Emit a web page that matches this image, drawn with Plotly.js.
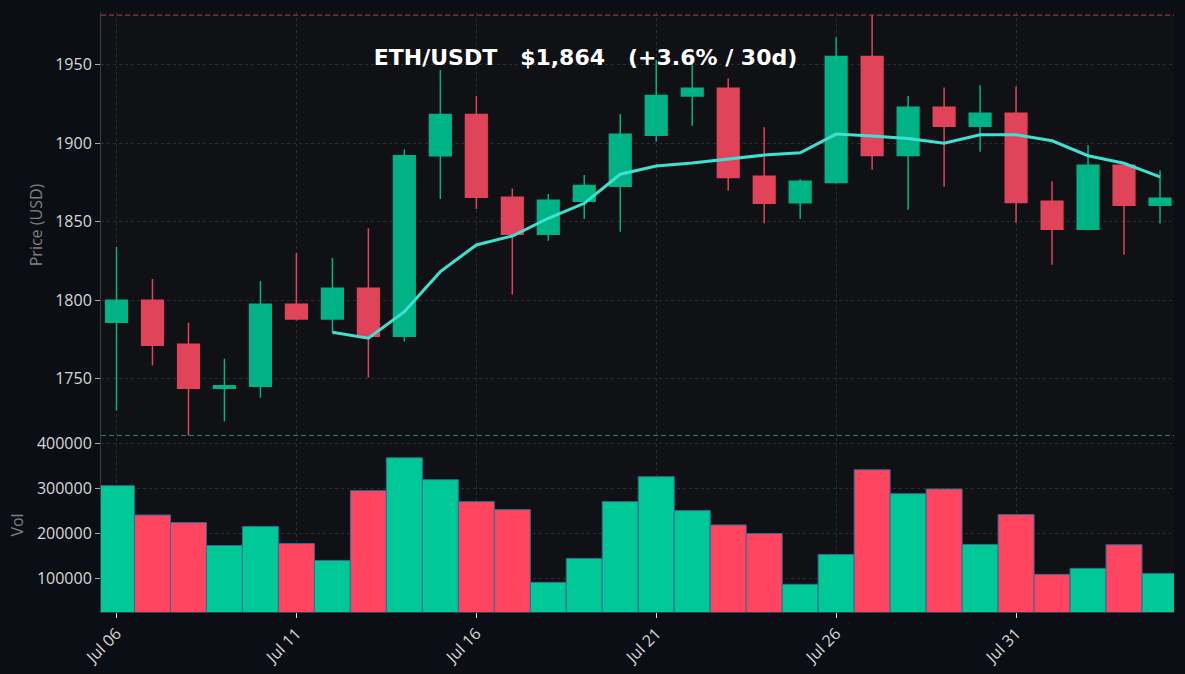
<!DOCTYPE html>
<html>
<head>
<meta charset="utf-8">
<script src="https://cdn.plot.ly/plotly-3.0.1.min.js"></script>
<style>
  html, body { margin: 0; padding: 0; background: #0b0e14; }
  #chart { width: 1185px; height: 674px; }
</style>
</head>
<body>
<div id="chart"></div>
<script>
const dates = ['2023-07-06','2023-07-07','2023-07-08','2023-07-09','2023-07-10','2023-07-11','2023-07-12','2023-07-13','2023-07-14','2023-07-15',
               '2023-07-16','2023-07-17','2023-07-18','2023-07-19','2023-07-20','2023-07-21','2023-07-22','2023-07-23','2023-07-24','2023-07-25',
               '2023-07-26','2023-07-27','2023-07-28','2023-07-29','2023-07-30','2023-07-31','2023-08-01','2023-08-02','2023-08-03','2023-08-04'];
const openP  = [1786, 1800, 1772, 1744, 1745.3, 1797.5, 1788, 1807.6, 1777, 1892, 1918.3, 1865.5, 1842, 1863, 1872.5, 1905, 1930, 1935, 1879, 1862,
                1875, 1955.2, 1892.2, 1922.8, 1910.7, 1919, 1863, 1845.2, 1885.9, 1860.4];
const highP  = [1833.9, 1813.5, 1785.6, 1762.7, 1812.3, 1830.1, 1826.9, 1845.8, 1896, 1946.5, 1930, 1871.2, 1867.6, 1879.7, 1918.5, 1953, 1952, 1941.2, 1910.2, 1877,
                1967.5, 1981.5, 1930, 1935.5, 1936.8, 1936.1, 1875.7, 1898.6, 1886, 1882.7];
const lowP   = [1729.8, 1758.4, 1713.9, 1722.8, 1738, 1787, 1779.6, 1750.8, 1773.7, 1864.4, 1858.1, 1803.6, 1837.9, 1851.7, 1843.6, 1900.9, 1911.1, 1869.7, 1849, 1851.7,
                1874.2, 1883.1, 1857.6, 1872.3, 1894.5, 1849.4, 1822.6, 1844.5, 1829, 1848.8];
const closeP = [1800, 1771.4, 1744, 1745.5, 1797.5, 1788, 1807.6, 1777, 1892, 1918.3, 1865.5, 1842, 1863.6, 1873, 1905.6, 1930.4, 1935, 1878.2, 1861.7, 1875.7,
                1955.2, 1892.2, 1922.8, 1910.7, 1919, 1862.3, 1845.2, 1885.9, 1860.4, 1864.9];
const volume = [306700, 241300, 224400, 173300, 215600, 177800, 140000, 295600, 368900, 320000, 271100, 253300, 91100, 144400, 271100, 326700, 251100, 219100, 200000, 86700,
                153300, 342200, 288900, 299300, 175600, 242200, 108900, 122200, 174900, 111100];
const maDates = dates.slice(6);
const ma7 = [1779.6, 1775.8, 1792.7, 1818.2, 1835.2, 1840.9, 1852.2, 1861.7, 1880.2, 1885.4, 1887.3, 1889.7, 1892.4, 1893.9,
             1905.8, 1904.5, 1903, 1899.9, 1905.3, 1905.3, 1901.5, 1892, 1887.2, 1878.6];
const titleText = 'ETH/USDT   $1,864   (+3.6% / 30d)';

const GREEN = '#00b386', RED = '#e0435a';
const VGREEN = '#00c896', VRED = '#ff4560';
const volColors = closeP.map((c, i) => c >= openP[i] ? VGREEN : VRED);
const maxHigh = Math.max(...highP);
const minLow = Math.min(...lowP);

const traces = [
  {
    type: 'candlestick', x: dates, open: openP, high: highP, low: lowP, close: closeP,
    xaxis: 'x', yaxis: 'y',
    increasing: { line: { color: GREEN, width: 1.5 }, fillcolor: GREEN },
    decreasing: { line: { color: RED, width: 1.5 }, fillcolor: RED },
    showlegend: false, hoverinfo: 'skip'
  },
  {
    type: 'scatter', mode: 'lines', x: maDates, y: ma7, xaxis: 'x', yaxis: 'y',
    line: { color: '#40e0d0', width: 3 }, showlegend: false, hoverinfo: 'skip'
  },
  {
    type: 'bar', x: dates, y: volume, xaxis: 'x', yaxis: 'y2',
    marker: { color: volColors, line: { color: '#2d6e9a', width: 1 } },
    showlegend: false, hoverinfo: 'skip'
  }
];

const gridC = '#2a2d33';
const TICKFONT = { family: 'Open Sans, sans-serif', size: 16, color: '#d8d8d8' };
const layout = {
  width: 1185, height: 674,
  paper_bgcolor: '#0b0e14', plot_bgcolor: '#0f1115',
  margin: { l: 101, r: 11, t: 12, b: 62 },
  font: { family: 'Open Sans, sans-serif', size: 16, color: '#d0d0d0' },
  title: { text: titleText, x: 585.5 / 1185, xref: 'container', xanchor: 'center', y: 1 - 57/674, yref: 'container', yanchor: 'middle',
           font: { family: 'DejaVu Sans, sans-serif', size: 22, color: '#ffffff', weight: 'bold' } },
  bargap: 0,
  boxgap: 0.14,
  showlegend: false,
  xaxis: {
    type: 'date', anchor: 'y2',
    range: ['2023-07-05 13:40', '2023-08-04 09:20'],
    tick0: '2023-07-06', dtick: 5 * 86400000, tickformat: '%b %d', tickangle: -45,
    showgrid: true, gridcolor: gridC, griddash: 'dot', gridwidth: 1,
    showline: true, linecolor: '#3a3d44', linewidth: 1,
    ticks: 'outside', ticklen: 5, tickcolor: '#dddddd', tickwidth: 1,
    tickfont: TICKFONT,
    rangeslider: { visible: false }, zeroline: false
  },
  yaxis: {
    domain: [0.29, 1], range: [1712.3, 1983.5],
    tickvals: [1750, 1800, 1850, 1900, 1950],
    showgrid: true, gridcolor: gridC, griddash: 'dot', gridwidth: 1,
    showline: true, linecolor: '#3a3d44', linewidth: 1,
    ticks: 'outside', ticklen: 5, tickcolor: '#aaaaaa',
    tickfont: TICKFONT, zeroline: false,
    title: { text: 'Price (USD)', standoff: 8, font: { family: 'Open Sans, sans-serif', size: 16, color: '#808080' } }
  },
  yaxis2: {
    domain: [0, 0.29], range: [25000, 413000],
    tickvals: [100000, 200000, 300000, 400000], tickformat: 'd',
    showgrid: true, gridcolor: gridC, griddash: 'dot', gridwidth: 1,
    showline: true, linecolor: '#3a3d44', linewidth: 1,
    ticks: 'outside', ticklen: 5, tickcolor: '#aaaaaa',
    tickfont: TICKFONT, zeroline: false,
    title: { text: 'Vol', standoff: 9, font: { family: 'Open Sans, sans-serif', size: 16, color: '#808080' } }
  },
  shapes: [
    { type: 'line', xref: 'paper', x0: 0, x1: 1, yref: 'y', y0: maxHigh, y1: maxHigh,
      line: { color: '#b83c58', width: 1, dash: '5px,3px' } },
    { type: 'line', xref: 'paper', x0: 0, x1: 1, yref: 'y', y0: minLow, y1: minLow,
      line: { color: '#1f8a70', width: 1, dash: '5px,3px' } }
  ]
};

Plotly.newPlot('chart', traces, layout, { displayModeBar: false, staticPlot: true });
</script>
</body>
</html>
